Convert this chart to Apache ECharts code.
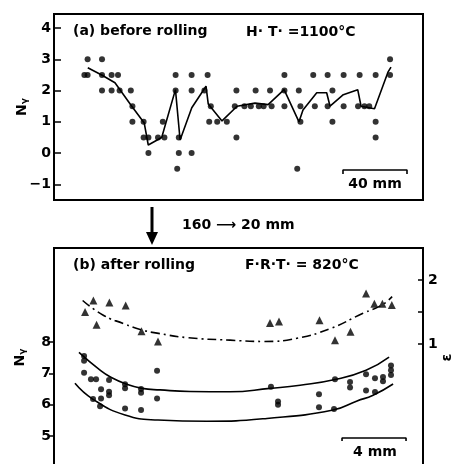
<!DOCTYPE html>
<html>
<head>
<meta charset="utf-8">
<script src="https://cdn.jsdelivr.net/npm/echarts@6/dist/echarts.min.js"></script>
<style>
html,body{margin:0;padding:0;background:#fff}
#main{width:459px;height:464px}
</style>
</head>
<body>
<div id="main"></div>
<script>
// (a) before rolling : [position mm, N]
var aPoints = [[21,3],[30,3],[19,2.5],[21,2.5],[30,2.5],[36,2.5],[40,2.5],[30,2],[36,2],[41,2],[48,2],
  [49,1.5],[49,1],[56,1],[56,0.5],[59,0.5],[59,0],[65,0.5],[69,0.5],[68,1],[76,2.5],[76,2],[78,0.5],
  [78,0],[77,-0.5],[86,0],[86,2.5],[86,2],[96,2.5],[94,2],[98,1.5],[97,1],[102,1],[108,1],[114,0.5],
  [114,2],[113,1.5],[119,1.5],[126,2],[123,1.5],[128,1.5],[131,1.5],[136,1.5],[135,2],[144,2.5],
  [144,2],[144,1.5],[153,2],[154,1.5],[154,1],[152,-0.5],[162,2.5],[171,2.5],[181,2.5],[191,2.5],
  [201,2.5],[210,3],[210,2.5],[174,2],[163,1.5],[171,1.5],[181,1.5],[190,1.5],[194,1.5],[197,1.5],
  [174,1],[201,1],[201,0.5]]
var aLine = [[21.1,2.73],[29.8,2.5],[38.1,2.25],[48.6,1.5],[56.4,0.96],[58.9,0.26],[67.3,0.5],
  [75.9,2.03],[78.8,0.42],[86.1,1.45],[95,2.14],[96.4,1.57],[105,1.03],[114.4,1.5],[125.6,1.6],
  [133.8,1.55],[143.8,2.03],[153.1,1.0],[155.6,1.38],[164.2,1.93],[170.4,1.93],[172.5,1.5],
  [180.8,1.87],[189.8,2.03],[191.9,1.5],[200.3,1.42],[208.8,2.6],[210.6,2.75]]
var aTicks = [-1,0,1,2,3,4]
var aBar = [[180.6,-0.67],[180.6,-0.54],[220.6,-0.54],[220.6,-0.67]]  // 40 mm

// (b) after rolling : [position mm, N] and [position mm, e]
var bCircles = [[1.88,7.55],[1.88,7.4],[1.88,7.02],[2.31,6.81],[2.63,6.81],[3.44,6.79],[2.94,6.49],
  [3.44,6.41],[3.44,6.3],[2.44,6.18],[2.94,6.2],[2.88,5.95],[4.44,6.65],[4.44,6.52],[4.44,5.88],
  [5.44,6.5],[5.44,6.38],[5.44,5.83],[6.44,7.08],[6.44,6.2],[13.56,6.57],[14,6.1],[14,6.0],
  [16.56,6.33],[16.56,5.92],[17.56,6.81],[17.5,5.86],[18.5,6.72],[18.5,6.55],[19.5,6.97],[19.5,6.45],
  [20.06,6.84],[20.06,6.4],[20.56,6.88],[20.56,6.75],[21.06,7.25],[21.06,7.1],[21.06,6.95]]
var bTriangles = [[1.94,1.5],[2.46,1.68],[3.46,1.65],[4.48,1.6],[2.66,1.3],[5.47,1.2],[6.5,1.04],
  [13.5,1.33],[14.06,1.35],[16.59,1.37],[17.56,1.06],[18.53,1.19],[19.5,1.79],[20.02,1.63],
  [20.52,1.63],[21.11,1.61]]
var bUpper = [[1.56,7.67],[2.88,7.1],[3.5,6.89],[4.5,6.66],[5.5,6.52],[6.63,6.47],[8.5,6.42],
  [11,6.41],[13.5,6.52],[15.38,6.62],[17.56,6.8],[19.5,7.1],[20.94,7.52]]
var bLower = [[1.31,6.68],[2.44,6.17],[4.44,5.67],[6.5,5.51],[9.56,5.47],[13.31,5.56],[17.44,5.83],
  [18.94,6.12],[19.94,6.3],[21.19,6.66]]
var bEps = [[1.79,1.68],[3.08,1.45],[4.33,1.32],[5.48,1.22],[6.44,1.17],[8.31,1.1],[11,1.06],
  [13.06,1.04],[15.19,1.09],[17.25,1.24],[19.31,1.48],[20.5,1.61],[21.13,1.74]]
var bTicks = [5,6,7,8]
var epsTicks = [1,1.5,2]
var epsLabels = [1,2]
var bBar = [[18,4.84],[18,4.935],[22,4.935],[22,4.84]]  // 4 mm

var FONT = 'DejaVu Sans'
var lbl = {color:'#000',fontFamily:FONT,fontWeight:'bold',fontSize:14}
var nameStyle = {color:'#000',fontFamily:FONT,fontWeight:'bold',fontSize:14,
  rich:{n:{fontFamily:FONT,fontWeight:'bold',fontSize:14,color:'#000'},
        s:{fontFamily:FONT,fontWeight:'bold',fontSize:9,color:'#000',padding:[5,0,0,0]}}}

function txt(x,y,s,align){
  return {type:'text',x:x,y:y,style:{text:s,fill:'#000',font:'bold 14px "DejaVu Sans"',
    align:align||'left',verticalAlign:'middle'}}
}

var chart = echarts.init(document.getElementById('main'))
chart.setOption({
  animation:false,
  grid:[
    {left:54,top:14,width:369,height:186,show:true,borderColor:'#000',borderWidth:2,outerBoundsMode:'none'},
    {left:54,top:248,width:369,height:219.3,show:true,borderColor:'#000',borderWidth:2,outerBoundsMode:'none'}
  ],
  xAxis:[
    {gridIndex:0,type:'value',min:0,max:230.6,show:false},
    {gridIndex:1,type:'value',min:0,max:23.06,show:false}
  ],
  yAxis:[
    {gridIndex:0,type:'value',min:-1.5,max:4.45,axisLine:{show:false},splitLine:{show:false},
      axisTick:{show:true,inside:true,length:7,customValues:aTicks,lineStyle:{color:'#000',width:1.5}},
      axisLabel:Object.assign({customValues:aTicks,margin:3,formatter:function(v){return v<0?'\u2212'+(-v):''+v}},lbl),
      name:'{n|N}{s|\u03b3}',nameLocation:'middle',nameGap:25,nameRotate:90,nameMoveOverlap:false,nameTextStyle:nameStyle},
    {gridIndex:1,type:'value',min:4,max:11,axisLine:{show:false},splitLine:{show:false},
      axisTick:{show:true,length:5,customValues:bTicks,lineStyle:{color:'#000',width:1.5}},
      axisLabel:Object.assign({customValues:bTicks,margin:3},lbl),
      name:'{n|N}{s|\u03b3}',nameLocation:'middle',nameGap:27,nameRotate:90,nameMoveOverlap:false,nameTextStyle:nameStyle},
    {gridIndex:1,type:'value',position:'right',min:2.5-219.3/64,max:2.5,axisLine:{show:false},splitLine:{show:false},
      axisTick:{show:true,inside:true,length:5,customValues:epsTicks,lineStyle:{color:'#000',width:1.5}},
      axisLabel:Object.assign({customValues:epsLabels,margin:5},lbl),
      name:'\u03b5',nameLocation:'middle',nameGap:17,nameRotate:90,nameMoveOverlap:false,nameTextStyle:lbl}
  ],
  series:[
    {type:'scatter',xAxisIndex:0,yAxisIndex:0,data:aPoints,symbolSize:6,itemStyle:{color:'#000'}},
    {type:'line',xAxisIndex:0,yAxisIndex:0,data:aLine,symbol:'none',lineStyle:{color:'#000',width:1.6}},
    {type:'line',xAxisIndex:0,yAxisIndex:0,data:aBar,symbol:'none',lineStyle:{color:'#000',width:1.6}},
    {type:'scatter',xAxisIndex:1,yAxisIndex:1,data:bCircles,symbolSize:6,itemStyle:{color:'#000'}},
    {type:'scatter',xAxisIndex:1,yAxisIndex:2,data:bTriangles,symbol:'triangle',symbolSize:8,itemStyle:{color:'#000'}},
    {type:'line',xAxisIndex:1,yAxisIndex:1,data:bUpper,smooth:true,symbol:'none',lineStyle:{color:'#000',width:1.6}},
    {type:'line',xAxisIndex:1,yAxisIndex:1,data:bLower,smooth:true,symbol:'none',lineStyle:{color:'#000',width:1.6}},
    {type:'line',xAxisIndex:1,yAxisIndex:2,data:bEps,smooth:true,symbol:'none',lineStyle:{color:'#000',width:1.6,type:[9,4,2,4]}},
    {type:'line',xAxisIndex:1,yAxisIndex:1,data:bBar,symbol:'none',lineStyle:{color:'#000',width:1.6}}
  ],
  graphic:[
    txt(73,31,'(a) before rolling'),
    txt(246,32,'H\u00b7 T\u00b7 =1100\u00b0C'),
    txt(375,184,'40 mm','center'),
    txt(182,225,'160 \u27f6 20 mm'),
    txt(73,265,'(b) after rolling'),
    txt(245,265,'F\u00b7R\u00b7T\u00b7 = 820\u00b0C'),
    txt(375,452,'4 mm','center'),
    {type:'line',shape:{x1:152,y1:207,x2:152,y2:234},style:{stroke:'#000',lineWidth:3}},
    {type:'polygon',shape:{points:[[146,232],[158,232],[152,245]]},style:{fill:'#000'}}
  ]
})
</script>
</body>
</html>
